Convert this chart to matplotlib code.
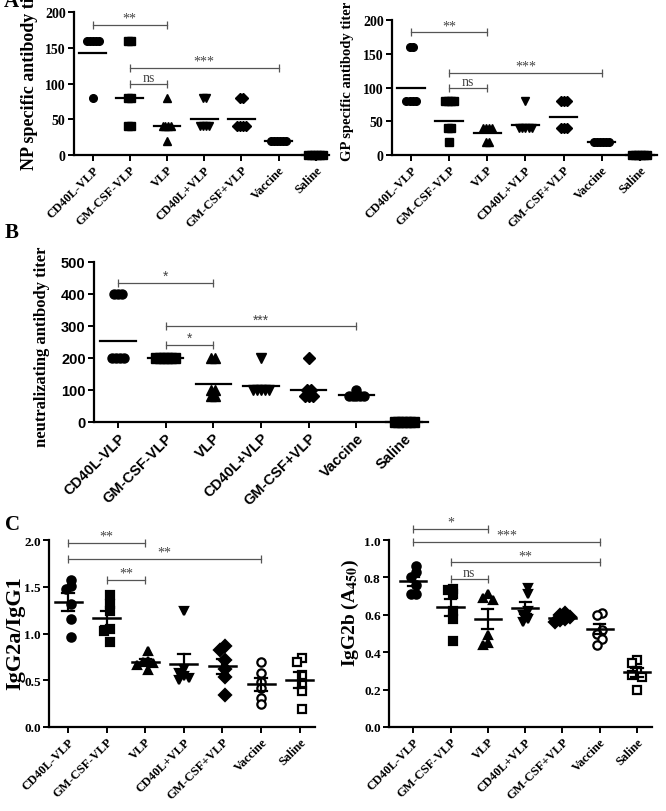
import numpy as np
import matplotlib
matplotlib.use('Agg')
import matplotlib.pyplot as plt

plt.rcParams['mathtext.fontset'] = 'stix'

groups = ['CD40L-VLP', 'GM-CSF-VLP', 'VLP', 'CD40L+VLP', 'GM-CSF+VLP', 'Vaccine', 'Saline']
markers = ['o', 's', '^', 'v', 'D', 'o', 's']

# A: NP specific antibody titer
np_titer = [
    [160, 160, 160, 160, 160, 80],
    [160, 160, 80, 80, 40, 40],
    [80, 40, 40, 40, 40, 20],
    [80, 80, 40, 40, 40, 40],
    [80, 80, 40, 40, 40, 40],
    [20, 20, 20, 20, 20, 20],
    [0, 0, 0, 0, 0, 0],
]
np_mean = [143, 80, 40, 51, 51, 20, 0]

# A: GP specific antibody titer
gp_titer = [
    [160, 160, 80, 80, 80, 80],
    [80, 80, 80, 80, 40, 40, 20],
    [40, 40, 40, 40, 20, 20],
    [80, 40, 40, 40, 40, 40],
    [80, 80, 80, 40, 40, 40],
    [20, 20, 20, 20, 20, 20],
    [0, 0, 0, 0, 0, 0],
]
gp_mean = [100, 50, 32, 45, 57, 20, 0]

# B: neutralizing antibody titer
nt_titer = [
    [400, 400, 400, 200, 200, 200, 200],
    [200, 200, 200, 200, 200, 200],
    [200, 200, 100, 100, 80, 80],
    [200, 100, 100, 100, 100, 100],
    [200, 100, 100, 80, 80, 80],
    [100, 80, 80, 80, 80, 80],
    [0, 0, 0, 0, 0, 0],
]
nt_mean = [252, 200, 118, 113, 100, 85, 0]

# C: IgG2a/IgG1 ratio
ratio = [
    [1.57, 1.51, 1.48, 1.32, 1.16, 0.96],
    [1.415, 1.315, 1.245, 1.05, 1.03, 0.91],
    [0.81, 0.71, 0.70, 0.68, 0.66, 0.61],
    [1.245, 0.62, 0.58, 0.55, 0.52, 0.50],
    [0.87, 0.82, 0.72, 0.62, 0.53, 0.34],
    [0.70, 0.58, 0.48, 0.42, 0.31, 0.25],
    [0.74, 0.70, 0.56, 0.45, 0.38, 0.19],
]

# C: IgG2b (A450)
igg2b = [
    [0.86, 0.83, 0.80, 0.76, 0.71, 0.71],
    [0.74, 0.73, 0.71, 0.62, 0.58, 0.46],
    [0.71, 0.69, 0.68, 0.49, 0.45, 0.44],
    [0.745, 0.71, 0.62, 0.60, 0.58, 0.56],
    [0.61, 0.60, 0.59, 0.58, 0.57, 0.56],
    [0.61, 0.60, 0.52, 0.50, 0.47, 0.44],
    [0.36, 0.34, 0.30, 0.28, 0.27, 0.20],
]

# significance brackets: (group i, group j, height, label)
np_sig = [(0, 2, 182, '**'), (1, 5, 122, '***'), (1, 2, 99, 'ns')]
gp_sig = [(0, 2, 182, '**'), (1, 5, 122, '***'), (1, 2, 99, 'ns')]
nt_sig = [(0, 2, 434, '*'), (1, 5, 299, '***'), (1, 2, 241, '*')]
ratio_sig = [(0, 2, 1.97, '**'), (0, 5, 1.80, '**'), (1, 2, 1.575, '**')]
igg2b_sig = [(0, 2, 1.06, '*'), (0, 5, 0.99, '***'), (1, 5, 0.88, '**'), (1, 2, 0.79, 'ns')]

SERIF = 'Liberation Serif'
SANS = 'Liberation Sans'
W, H = 666, 812


def ax_at(fig, x0, y0, x1, y1):
    return fig.add_axes([x0 / W, 1 - y1 / H, (x1 - x0) / W, (y1 - y0) / H])


def same_spread(vals, dx):
    vals = np.asarray(vals, float)
    offs = np.zeros(len(vals))
    for v in np.unique(vals):
        idx = np.where(vals == v)[0]
        offs[idx] = (np.arange(len(idx)) - (len(idx) - 1) / 2) * dx
    return offs


def swarm(vals, dx, dy):
    placed = []
    offs = []
    cands = [0]
    for k in range(1, 8):
        cands += [-k * dx, k * dx]
    for v in vals:
        for c in cands:
            if all(abs(c - o) >= dx * 0.99 or abs(v - y) >= dy for o, y in placed):
                break
        placed.append((c, v))
        offs.append(c)
    offs = np.array(offs)
    return offs - (offs.max() + offs.min()) / 2


def style(ax, font, xsize, ysize, ylim, yticks, ylabels, xlim):
    for s in ['top', 'right']:
        ax.spines[s].set_visible(False)
    for s in ['left', 'bottom']:
        ax.spines[s].set_linewidth(1.6)
    ax.set_ylim(*ylim)
    ax.set_xlim(*xlim)
    ax.set_yticks(yticks)
    ax.set_yticklabels(ylabels, fontfamily=font, fontweight='bold', fontsize=ysize)
    ax.set_xticks(range(len(groups)))
    ax.set_xticklabels(groups, rotation=45, ha='right', rotation_mode='anchor',
                       fontfamily=font, fontweight='bold', fontsize=xsize)
    ax.tick_params(width=1.4, length=4, direction='out', pad=2)


def brackets(ax, sig, font, fsize):
    for i, j, y, lab in sig:
        ax.plot([i, j], [y, y], color='#555555', lw=0.9, clip_on=False)
        ax.plot([i, j], [y, y], ls='none', marker='|', ms=6, mew=0.9,
                color='#555555', clip_on=False)
        ax.text((i + j) / 2, y, lab, ha='center', va='bottom', color='#444444',
                fontsize=fsize, fontfamily=font)


def titer_panel(ax, data, means, ms, dx, hw):
    for g, vals in enumerate(data):
        offs = same_spread(vals, dx)
        ax.plot(g + offs, vals, ls='none', marker=markers[g], ms=ms,
                color='black', clip_on=False, zorder=3)
        ax.plot([g - hw, g + hw], [means[g], means[g]], color='black', lw=1.6,
                clip_on=False, zorder=4)


def sem_panel(ax, data, ms, dx, dy):
    for g, vals in enumerate(data):
        vals = np.asarray(vals)
        offs = swarm(vals, dx, dy)
        fill = 'white' if g >= 5 else 'black'
        ax.plot(g + offs, vals, ls='none', marker=markers[g], ms=ms,
                mfc=fill, mec='black', mew=1.6, clip_on=False, zorder=3)
        m = vals.mean()
        se = vals.std(ddof=1) / np.sqrt(len(vals))
        ax.plot([g - 0.35, g + 0.35], [m, m], color='black', lw=1.8, zorder=4)
        ax.plot([g, g], [m - se, m + se], color='black', lw=1.6, zorder=4)
        for e in (m - se, m + se):
            ax.plot([g - 0.15, g + 0.15], [e, e], color='black', lw=1.6, zorder=4)


fig = plt.figure(figsize=(6.66, 8.12), dpi=100)

titer_ticks = list(range(0, 201, 50))

# ---- A left
ax = ax_at(fig, 74, 13, 325, 156)
titer_panel(ax, np_titer, np_mean, 5.5, 0.08, 0.36)
style(ax, SERIF, 9, 10, (0, 200), titer_ticks, [str(t) for t in titer_ticks], (-0.5, 6.25))
brackets(ax, np_sig, SERIF, 10)

# ---- A right
ax = ax_at(fig, 392, 21, 657, 156)
titer_panel(ax, gp_titer, gp_mean, 5.5, 0.08, 0.36)
style(ax, SERIF, 9, 10, (0, 200), titer_ticks, [str(t) for t in titer_ticks], (-0.5, 6.45))
brackets(ax, gp_sig, SERIF, 10)

# ---- B
nt_ticks = list(range(0, 501, 100))
ax = ax_at(fig, 94, 263, 428, 423)
titer_panel(ax, nt_titer, nt_mean, 6.5, 0.08, 0.37)
style(ax, SANS, 10.5, 10.5, (0, 500), nt_ticks, [str(t) for t in nt_ticks], (-0.5, 6.5))
brackets(ax, nt_sig, SANS, 10)

# ---- C left
ratio_ticks = [0, 0.5, 1.0, 1.5, 2.0]
ax = ax_at(fig, 49, 541, 315, 728)
sem_panel(ax, ratio, 6, 0.14, 0.06)
style(ax, SERIF, 9, 9.5, (0, 2.0), ratio_ticks, ['%.1f' % t for t in ratio_ticks], (-0.5, 6.4))
brackets(ax, ratio_sig, SERIF, 10)

# ---- C right
igg_ticks = [0, 0.2, 0.4, 0.6, 0.8, 1.0]
ax = ax_at(fig, 389, 541, 652, 728)
sem_panel(ax, igg2b, 6, 0.14, 0.03)
style(ax, SERIF, 9, 9.5, (0, 1.0), igg_ticks, ['%.1f' % t for t in igg_ticks], (-0.65, 6.4))
brackets(ax, igg2b_sig, SERIF, 10)

# y labels
lab_kw = dict(rotation=90, ha='center', va='bottom', fontfamily=SERIF, fontweight='bold')
fig.text(30 / W, 1 - 170 / H, 'NP specific antibody titer', fontsize=13, **lab_kw)
fig.text(348 / W, 1 - 161 / H, 'GP specific antibody titer', fontsize=10.5, **lab_kw)
fig.text(42 / W, 1 - 447 / H, 'neutralizating antibody titer', fontsize=12, **lab_kw)
fig.text(15 / W, 1 - 690 / H, 'IgG2a/IgG1', fontsize=16, **lab_kw)
fig.text(350 / W, 1 - 667 / H, r'IgG2b (A$_{\mathbf{450}}$)', fontsize=14, **lab_kw)

# panel letters
for x, y, t in [(11, 2, 'A'), (12, 233, 'B'), (12, 525, 'C')]:
    fig.text(x / W, 1 - y / H, t, ha='center', va='center', fontsize=15,
             fontfamily=SERIF, fontweight='bold')

fig.savefig('out.png', dpi=100)
